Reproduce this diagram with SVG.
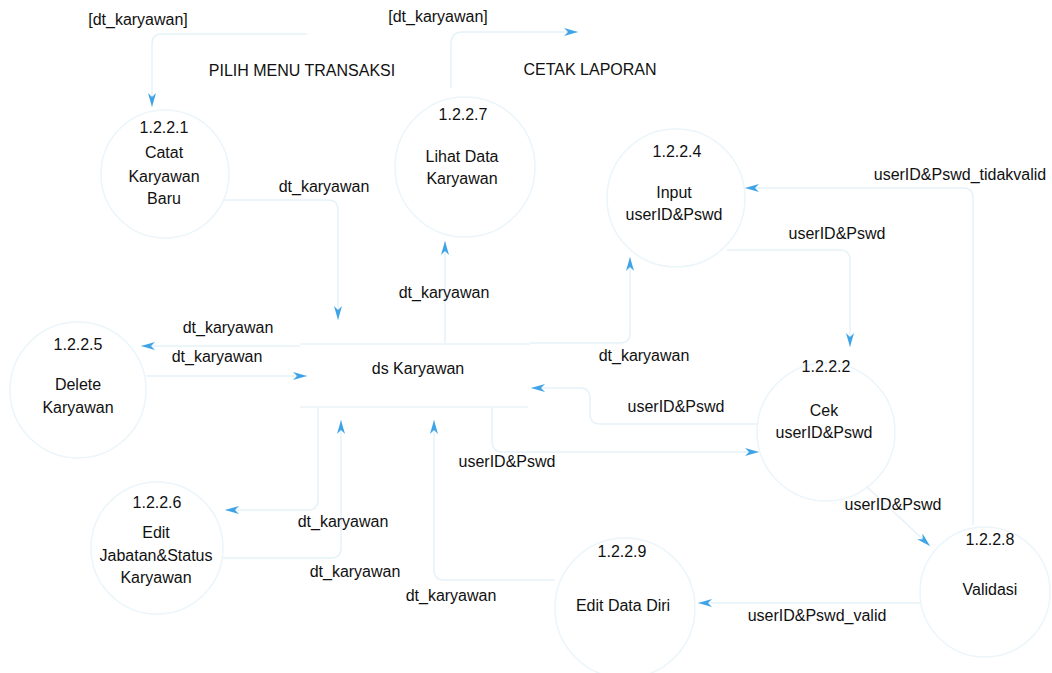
<svg xmlns="http://www.w3.org/2000/svg" width="1052" height="673" viewBox="0 0 1052 673">
  <style>
    text { font-family: "Liberation Sans", Arial, sans-serif; font-size: 16px; fill: #111111; text-anchor: middle; }
    .proc { fill: none; stroke: #ebf5fa; stroke-width: 1.5; }
    .store { stroke: #e8f3f9; stroke-width: 1.5; }
    .flow { fill: none; stroke: #e6f2f9; stroke-width: 1.5; marker-end: url(#arr); }
  </style>
  <defs>
    <marker id="arr" markerUnits="userSpaceOnUse" markerWidth="16" markerHeight="10" refX="14" refY="5" orient="auto">
      <path d="M0,1 L14,5 L0,9 L4,5 Z" fill="#3fa4e6"/>
    </marker>
  </defs>
  <rect width="1052" height="673" fill="#ffffff"/>

  <!-- data flows -->
  <g id="connectors">
    <path class="flow" d="M307,34 H162 Q152,34 152,44 V107"/>
    <path class="flow" d="M451,88 V44 Q451,32 463,32 H578"/>
    <path class="flow" d="M223,200 H328 Q338,200 338,210 V320"/>
    <path class="flow" d="M445,343 V241"/>
    <path class="flow" d="M300,346 H141"/>
    <path class="flow" d="M146,376 H307"/>
    <path class="flow" d="M530,343 H620 Q630,343 630,333 V257"/>
    <path class="flow" d="M727,250 H840 Q850,250 850,260 V347"/>
    <path class="flow" d="M973,525 V198 Q973,188 963,188 H745"/>
    <path class="flow" d="M757,424 H600 Q590,424 590,414 V398 Q590,388 580,388 H531"/>
    <path class="flow" d="M492,408 V440 Q492,452 502,452 H759"/>
    <path class="flow" d="M866,486 L930,546"/>
    <path class="flow" d="M920,603 H698"/>
    <path class="flow" d="M318,408 V500 Q318,510 308,510 H225"/>
    <path class="flow" d="M222,558 H331 Q341,558 341,548 V420"/>
    <path class="flow" d="M555,580 H444 Q434,580 434,570 V420"/>
  </g>

  <!-- flow labels -->
  <g id="flow-labels">
    <text x="138" y="25">[dt_karyawan]</text>
    <text x="438" y="22">[dt_karyawan]</text>
    <text x="324" y="192">dt_karyawan</text>
    <text x="444" y="298">dt_karyawan</text>
    <text x="228" y="333">dt_karyawan</text>
    <text x="217" y="362">dt_karyawan</text>
    <text x="644" y="361">dt_karyawan</text>
    <text x="960" y="180">userID&amp;Pswd_tidakvalid</text>
    <text x="837" y="239">userID&amp;Pswd</text>
    <text x="676" y="412">userID&amp;Pswd</text>
    <text x="507" y="467">userID&amp;Pswd</text>
    <text x="893" y="510">userID&amp;Pswd</text>
    <text x="817" y="621">userID&amp;Pswd_valid</text>
    <text x="343" y="527">dt_karyawan</text>
    <text x="355" y="577">dt_karyawan</text>
    <text x="451" y="601">dt_karyawan</text>
  </g>

  <!-- external entities -->
  <g id="pilih-menu-transaksi">
    <text x="302" y="76">PILIH MENU TRANSAKSI</text>
  </g>
  <g id="cetak-laporan">
    <text x="590" y="75">CETAK LAPORAN</text>
  </g>

  <!-- processes -->
  <g id="p1-2-2-1">
    <circle class="proc" cx="165" cy="174" r="64"/>
    <text x="164" y="133">1.2.2.1</text>
    <text x="164" y="158">Catat</text>
    <text x="164" y="182">Karyawan</text>
    <text x="164" y="204">Baru</text>
  </g>
  <g id="p1-2-2-7">
    <circle class="proc" cx="465" cy="167" r="70"/>
    <text x="463" y="120">1.2.2.7</text>
    <text x="462" y="162">Lihat Data</text>
    <text x="462" y="184">Karyawan</text>
  </g>
  <g id="p1-2-2-4">
    <circle class="proc" cx="676" cy="198" r="69"/>
    <text x="677" y="157">1.2.2.4</text>
    <text x="674" y="198">Input</text>
    <text x="674" y="220">userID&amp;Pswd</text>
  </g>
  <g id="p1-2-2-5">
    <circle class="proc" cx="78" cy="390" r="68"/>
    <text x="78" y="350">1.2.2.5</text>
    <text x="78" y="390">Delete</text>
    <text x="78" y="413">Karyawan</text>
  </g>
  <g id="ds-karyawan">
    <line class="store" x1="300" y1="344" x2="530" y2="344"/>
    <line class="store" x1="300" y1="407" x2="528" y2="407"/>
    <text x="418" y="374">ds Karyawan</text>
  </g>
  <g id="p1-2-2-2">
    <circle class="proc" cx="826" cy="432" r="69"/>
    <text x="826" y="372">1.2.2.2</text>
    <text x="824" y="416">Cek</text>
    <text x="824" y="438">userID&amp;Pswd</text>
  </g>
  <g id="p1-2-2-6">
    <circle class="proc" cx="157" cy="548" r="66"/>
    <text x="157" y="508">1.2.2.6</text>
    <text x="156" y="538">Edit</text>
    <text x="156" y="561">Jabatan&amp;Status</text>
    <text x="156" y="583">Karyawan</text>
  </g>
  <g id="p1-2-2-9">
    <circle class="proc" cx="625" cy="608" r="70"/>
    <text x="622" y="557">1.2.2.9</text>
    <text x="623" y="611">Edit Data Diri</text>
  </g>
  <g id="p1-2-2-8">
    <circle class="proc" cx="985" cy="592" r="65"/>
    <text x="990" y="545">1.2.2.8</text>
    <text x="990" y="595">Validasi</text>
  </g>
</svg>
